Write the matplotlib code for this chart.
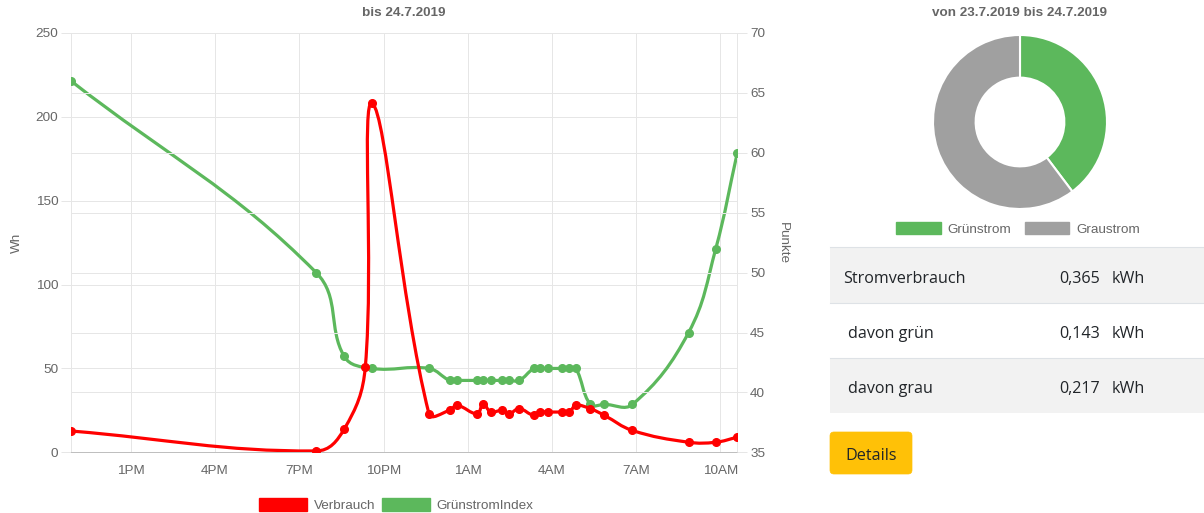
import numpy as np
import pandas as pd
import matplotlib
matplotlib.use("Agg")
import matplotlib.pyplot as plt
import matplotlib.dates as mdates
from matplotlib.path import Path
from matplotlib.patches import PathPatch, Patch, Rectangle, FancyBboxPatch

plt.rcParams['font.family'] = ['Liberation Sans', 'DejaVu Sans']

# ---------------- data ----------------
verbrauch_times = ["2019-07-23 10:52", "2019-07-23 19:36", "2019-07-23 20:36", "2019-07-23 21:21",
                   "2019-07-23 21:36", "2019-07-23 23:37", "2019-07-24 00:21", "2019-07-24 00:37",
                   "2019-07-24 01:20", "2019-07-24 01:33", "2019-07-24 01:49", "2019-07-24 02:13",
                   "2019-07-24 02:28", "2019-07-24 02:50", "2019-07-24 03:21", "2019-07-24 03:35",
                   "2019-07-24 03:51", "2019-07-24 04:21", "2019-07-24 04:37", "2019-07-24 04:51",
                   "2019-07-24 05:22", "2019-07-24 05:52", "2019-07-24 06:52", "2019-07-24 08:52",
                   "2019-07-24 09:50", "2019-07-24 10:36"]
verbrauch_wh = [12.7, 0.8, 13.9, 50.9, 208, 23, 25, 28, 23, 29, 24, 25, 23, 26, 22, 24, 24, 24, 24,
                28, 26, 22, 13, 6, 6, 9]

index_times = ["2019-07-23 10:52", "2019-07-23 19:36", "2019-07-23 20:36", "2019-07-23 21:36",
               "2019-07-23 23:37", "2019-07-24 00:21", "2019-07-24 00:37", "2019-07-24 01:20",
               "2019-07-24 01:33", "2019-07-24 01:49", "2019-07-24 02:13", "2019-07-24 02:28",
               "2019-07-24 02:50", "2019-07-24 03:21", "2019-07-24 03:35", "2019-07-24 03:51",
               "2019-07-24 04:21", "2019-07-24 04:37", "2019-07-24 04:51", "2019-07-24 05:22",
               "2019-07-24 05:52", "2019-07-24 06:52", "2019-07-24 08:52", "2019-07-24 09:50",
               "2019-07-24 10:36"]
index_punkte = [66, 50, 43, 42, 42, 41, 41, 41, 41, 41, 41, 41, 41, 42, 42, 42, 42, 42, 42, 39, 39,
                39, 45, 52, 60]

donut_labels = ["Grünstrom", "Graustrom"]
donut_values = [0.143, 0.217]

table_labels = ["Stromverbrauch", "davon grün", "davon grau"]
table_values = ["0,365", "0,143", "0,217"]
table_unit = "kWh"

left_title = "bis 24.7.2019"
right_title = "von 23.7.2019 bis 24.7.2019"

RED = "#ff0000"
GREEN = "#5cb85c"
GRAY = "#a0a0a0"
TXT = "#666666"
GRID = "#e6e6e6"

W, H = 1204, 513
FS = 9.7

fig = plt.figure(figsize=(W / 100, H / 100), dpi=100)

# overlay axes in pixel coordinates for page decorations
ov = fig.add_axes([0, 0, 1, 1])
ov.set_xlim(0, W)
ov.set_ylim(H, 0)
ov.axis('off')

# ---------------- line chart ----------------
L, R, T, B = 71, 737.3, 33, 452.3
ax = fig.add_axes([L / W, 1 - B / H, (R - L) / W, (B - T) / H])
ax2 = ax.twinx()
ax3 = ax.twinx()

xv = mdates.date2num(pd.to_datetime(verbrauch_times))
xg = mdates.date2num(pd.to_datetime(index_times))

for a in (ax, ax2, ax3):
    a.set_xlim(xv[0], xv[-1])
ax.set_ylim(0, 250)
ax3.set_ylim(0, 250)
ax2.set_ylim(35, 70)

ax.set_yticks(range(0, 251, 50))
ax2.set_yticks(range(35, 71, 5))
ax3.set_yticks([])
ax3.tick_params(right=False, labelright=False)

ax.xaxis.set_major_locator(mdates.HourLocator(byhour=[1, 4, 7, 10, 13, 16, 19, 22]))
ax.xaxis.set_major_formatter(mdates.DateFormatter('%-I%p'))

ax.tick_params(axis='y', length=7.2, width=0.72, color=GRID, pad=2, labelsize=FS, labelcolor=TXT)
ax2.tick_params(axis='y', length=7.2, width=0.72, color=GRID, pad=2, labelsize=FS, labelcolor=TXT)
ax.tick_params(axis='x', length=0, pad=9.2, labelsize=FS, labelcolor=TXT)

ax.grid(True, color=GRID, lw=0.72)
ax2.grid(True, axis='y', color=GRID, lw=0.72)
ax.set_axisbelow(True)

for s in ('left', 'right', 'top'):
    ax.spines[s].set_color(GRID)
    ax.spines[s].set_linewidth(0.72)
ax.spines['bottom'].set_color('#bfbfbf')
ax.spines['bottom'].set_linewidth(0.72)
for a in (ax2, ax3):
    for s in a.spines.values():
        s.set_visible(False)

ax.set_ylabel("Wh", color=TXT, fontsize=FS, labelpad=9)
ax2.set_ylabel("Punkte", color=TXT, fontsize=FS, rotation=270, labelpad=17)


def chartjs_path(a, xs, ys, tension=0.4):
    pts = a.transData.transform(np.column_stack([xs, ys]))
    n = len(pts)
    cp_prev = np.zeros_like(pts)
    cp_next = np.zeros_like(pts)
    for i in range(n):
        prev = pts[max(i - 1, 0)]
        cur = pts[i]
        nxt = pts[min(i + 1, n - 1)]
        d01 = np.hypot(*(cur - prev))
        d12 = np.hypot(*(nxt - cur))
        tot = d01 + d12
        s01 = d01 / tot if tot else 0.0
        s12 = d12 / tot if tot else 0.0
        cp_prev[i] = cur - tension * s01 * (nxt - prev)
        cp_next[i] = cur + tension * s12 * (nxt - prev)
    bb = a.bbox
    for arr in (cp_prev, cp_next):
        arr[:, 0] = np.clip(arr[:, 0], bb.x0, bb.x1)
        arr[:, 1] = np.clip(arr[:, 1], bb.y0, bb.y1)
    verts = [pts[0]]
    codes = [Path.MOVETO]
    for i in range(n - 1):
        verts += [cp_next[i], cp_prev[i + 1], pts[i + 1]]
        codes += [Path.CURVE4] * 3
    verts = a.transData.inverted().transform(np.array(verts))
    return Path(verts, codes)


LW = 2.3
MS = 5.5
ax2.add_patch(PathPatch(chartjs_path(ax2, xg, index_punkte), facecolor='none', edgecolor=GREEN,
                        lw=LW, capstyle='round', joinstyle='round'))
ax2.plot(xg, index_punkte, 'o', color=GREEN, ms=MS, mec=GREEN)
ax3.add_patch(PathPatch(chartjs_path(ax3, xv, verbrauch_wh), facecolor='none', edgecolor=RED,
                        lw=LW, capstyle='round', joinstyle='round'))
ax3.plot(xv, verbrauch_wh, 'o', color=RED, ms=MS, mec=RED)

fig.text(404 / W, 1 - 13 / H, left_title, ha='center', va='center', fontsize=FS, fontweight='bold',
         color=TXT)

fig.legend(handles=[Patch(facecolor=RED, edgecolor=RED), Patch(facecolor=GREEN, edgecolor=GREEN)],
           labels=["Verbrauch", "GrünstromIndex"], loc='center', bbox_to_anchor=(396 / W, 1 - 505 / H),
           ncol=2, frameon=False, fontsize=FS, labelcolor=TXT, handlelength=3.6, handleheight=1.15,
           handletextpad=0.45, columnspacing=0.5, borderpad=0, borderaxespad=0)

# ---------------- donut ----------------
cx, cy, rad = 1020, 122, 87
axp = fig.add_axes([(cx - rad) / W, 1 - (cy + rad) / H, 2 * rad / W, 2 * rad / H])
axp.pie(donut_values, colors=[GREEN, GRAY], startangle=90, counterclock=False,
        wedgeprops=dict(width=0.49, edgecolor='white', linewidth=1.5))
axp.set_xlim(-1, 1)
axp.set_ylim(-1, 1)
axp.set_aspect('auto')

fig.text(cx / W, 1 - 13 / H, right_title, ha='center', va='center', fontsize=FS, fontweight='bold',
         color=TXT)

fig.legend(handles=[Patch(facecolor=GREEN, edgecolor=GREEN), Patch(facecolor=GRAY, edgecolor=GRAY)],
           labels=donut_labels, loc='center', bbox_to_anchor=(1018 / W, 1 - 229 / H),
           ncol=2, frameon=False, fontsize=FS, labelcolor=TXT, handlelength=3.3, handleheight=1.0,
           handletextpad=0.5, columnspacing=1.0, borderpad=0, borderaxespad=0)

# ---------------- table ----------------
row_tops = [247, 303, 358]
row_h = [56, 55, 55]
row_bg = ["#f2f2f2", "white", "#f2f2f2"]
for top, hgt, bg in zip(row_tops, row_h, row_bg):
    ov.add_patch(Rectangle((830, top), W - 830, hgt, facecolor=bg, edgecolor='none'))
    ov.plot([830, W], [top, top], color="#dee2e6", lw=0.8)

TFONT = ['Open Sans', 'DejaVu Sans']
TFS = 11.6
label_x = [843, 848, 848]
baselines = [283, 338, 393]
for lab, val, lx, by in zip(table_labels, table_values, label_x, baselines):
    ov.text(lx, by, lab, ha='left', va='baseline', fontsize=TFS, family=TFONT, color="#212529")
    ov.text(1059, by, val, ha='left', va='baseline', fontsize=TFS, family=TFONT, color="#212529")
    ov.text(1112, by, table_unit, ha='left', va='baseline', fontsize=TFS, family=TFONT, color="#212529")

# button
ov.add_patch(FancyBboxPatch((830, 432), 82, 42, boxstyle="round,pad=0,rounding_size=4",
                            facecolor="#ffc107", edgecolor="#ffc107", lw=0.5))
ov.text(871, 460, "Details", ha='center', va='baseline', fontsize=TFS, family=TFONT, color="#212529")

fig.savefig("out.png", dpi=100)
